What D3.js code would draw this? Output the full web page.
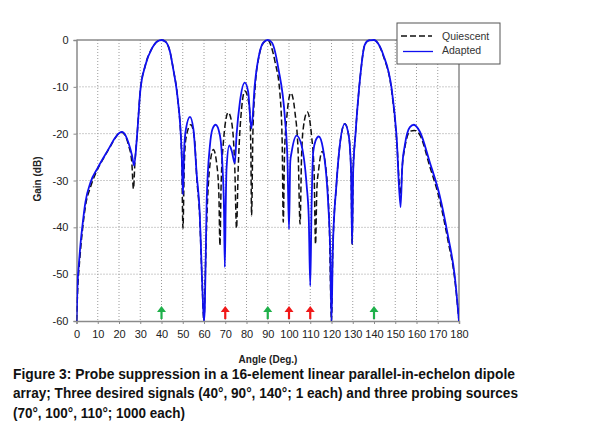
<!DOCTYPE html>
<html>
<head>
<meta charset="utf-8">
<script src="https://cdn.jsdelivr.net/npm/d3@7"></script>
<style>
  body { margin: 0; background: #fff; }
  svg { font-family: "Liberation Sans", Arial, sans-serif; }
</style>
</head>
<body>
<svg id="chart" width="600" height="440"></svg>
<script>
// --- data ---

var xTicks = [0,10,20,30,40,50,60,70,80,90,100,110,120,130,140,150,160,170,180];
var yTicks = [0,-10,-20,-30,-40,-50,-60];

// Adapted pattern (blue)
var adaptedAngle = [0,0.5,1.1,2,2.7,4.2,6.6,10,15.2,18,20.3,21.4,23,24.5,26.1,27.1,28.5,30,32.4,35.5,38,40,42,44,45.6,47.5,49.5,50.1,50.6,51.5,53.4,55,56.6,58,58.9,59.6,60,60.4,61.25,62.8,64,65.5,67.5,68.75,69.4,69.8,70.2,70.6,71.9,73,74.5,75.3,76.9,79.2,80.8,82.3,83.9,86.25,88,90,92,95,98.1,99.3,100,100.6,101.25,103.6,105.9,108.3,109.3,110,110.6,111.4,112.5,114,116,118.4,119.4,120,120.6,122.3,123.9,126.25,128.1,129.2,129.7,130.2,131.25,133.6,135.6,137.5,140,142,144.4,148.3,150.6,152.5,153.3,154.5,156.9,158.75,161.6,166.25,170.9,174.8,178,180];
var adaptedGain  = [-60,-52,-48,-43,-40,-34.6,-30.4,-27.3,-23.2,-21,-19.8,-19.6,-20.3,-22,-24.6,-26.8,-20.4,-11,-5.4,-1.8,-0.3,0,-0.4,-2.5,-6.4,-12,-24.2,-33,-24,-19,-16.4,-19,-28.9,-37,-48.9,-57,-60,-57,-34.6,-22.5,-19,-18.1,-20.4,-27.5,-36,-48.5,-36,-27.5,-22.5,-23.6,-26.3,-20.4,-13.2,-9.1,-11.1,-18.9,-9.6,-2.5,-0.5,0,-0.6,-6.1,-16.8,-26,-40.4,-26,-23.9,-20.4,-22.5,-31,-38,-52.5,-36,-23.9,-21.5,-20.6,-23.2,-34.6,-45,-60,-45,-31,-22.5,-17.9,-20.4,-28,-43.6,-28,-20.4,-7.5,-1.1,-0.1,0,-0.8,-3.2,-10.4,-20.4,-35.7,-27,-22.5,-18.6,-18.1,-19.6,-26.1,-33.2,-41.8,-50.4,-60];

// Quiescent pattern (black dashed)
var quiescentAngle = [0,0.7,1.5,2.7,4.2,6.6,9,12,15.2,18,20.3,21.4,23,24.5,26,26.8,27.5,28.5,30,32.4,35.5,38,40,42,44,45.6,47.5,49.5,50.1,50.7,51.5,53.8,55.5,56.6,58,58.9,60,60.5,61.2,62.5,64.4,66,67,67.5,68,69,71.4,73,74.5,75.3,76.1,77.7,79.2,81.25,82,82.4,83,84,86,88,90,91.5,93.4,95.8,96.8,97.3,97.9,98.9,100.9,102.8,104.3,105.2,105.9,106.7,108.6,110.6,111.8,112.5,113.1,114,115.6,117.7,119,120,120.6,122.3,123.9,126.25,128.1,129.2,129.7,130.2,131.25,133.6,135.6,137.5,140,142,144.4,148.3,150.6,152.5,153.3,154.5,156.9,159,161.6,166.25,170.9,174.8,178,180];
var quiescentGain  = [-60,-52,-47,-41,-35.5,-31.4,-28.5,-25.8,-23.3,-21.1,-19.8,-19.7,-20.5,-22.5,-26,-31.8,-26,-20.4,-11,-5.4,-1.8,-0.3,0,-0.4,-2.5,-6.4,-12,-25,-40.2,-27,-21,-18.1,-21,-29.5,-38,-49,-60,-52,-40,-28,-23.4,-26.5,-33,-43.9,-32,-22.5,-15.5,-17.5,-27.5,-40.2,-27.5,-14.6,-10.9,-13.9,-22,-37.5,-20,-10.5,-3.2,-0.6,0,-1.2,-4.6,-11.8,-22,-38.9,-24,-16.8,-11.3,-15.4,-24,-39.3,-25,-18.9,-15.4,-20.4,-28,-43.6,-32,-27.5,-23.8,-28.9,-40,-60,-45,-31,-22.5,-17.9,-20.4,-28,-43.6,-28,-20.4,-7.5,-1.1,-0.1,0,-0.8,-3.4,-10.8,-21,-33,-27,-23,-19.5,-19.3,-20.3,-27,-34.2,-42.8,-51,-60];

// signal directions marked by arrows
var desiredAngles = [40, 90, 140];
var probeAngles = [70, 100, 110];

var legendNames = ["Quiescent", "Adapted"];

var captionLines = [
  "Figure 3: Probe suppression in a 16-element linear parallel-in-echelon dipole",
  "array; Three desired signals (40\u00b0, 90\u00b0, 140\u00b0; 1 each) and three probing sources",
  "(70\u00b0, 100\u00b0, 110\u00b0; 1000 each)"
];

// --- drawing ---

var svg = d3.select("#chart");
var plotL = 76.5, plotR = 459, plotT = 40, plotB = 321;

var x = d3.scaleLinear().domain([0, 180]).range([plotL, plotR]);
var y = d3.scaleLinear().domain([-60, 0]).range([plotB, plotT]);

// grid
var grid = svg.append("g").attr("stroke", "#9a9a9a").attr("stroke-width", 1).attr("stroke-dasharray", "1,2");
grid.selectAll(".gx").data(xTicks.slice(1, -1)).enter().append("line")
    .attr("x1", function(d) { return x(d); }).attr("x2", function(d) { return x(d); })
    .attr("y1", plotT).attr("y2", plotB);
grid.selectAll(".gy").data(yTicks.slice(1, -1)).enter().append("line")
    .attr("x1", plotL).attr("x2", plotR)
    .attr("y1", function(d) { return y(d); }).attr("y2", function(d) { return y(d); });

// axes
var plain = function(d) { return String(d); };
var xAxis = svg.append("g").attr("transform", "translate(0," + plotB + ")")
    .call(d3.axisBottom(x).tickValues(xTicks).tickFormat(plain).tickSize(3).tickPadding(6));
var yAxis = svg.append("g").attr("transform", "translate(" + plotL + ",0)")
    .call(d3.axisLeft(y).tickValues(yTicks).tickFormat(plain).tickSize(3).tickPadding(5));
[xAxis, yAxis].forEach(function(a) {
  a.select(".domain").attr("stroke", "#8a8a8a").attr("stroke-width", 1.5);
  a.selectAll(".tick line").attr("stroke", "#8a8a8a");
  a.selectAll(".tick text").attr("fill", "#222").style("font-size", "11px")
    .style("font-family", "'Liberation Sans', Arial, sans-serif");
});

// top and right frame
svg.append("line").attr("x1", plotL).attr("x2", plotR).attr("y1", plotT).attr("y2", plotT)
    .attr("stroke", "#8a8a8a").attr("stroke-width", 1.5);
svg.append("line").attr("x1", plotR).attr("x2", plotR).attr("y1", plotT).attr("y2", plotB)
    .attr("stroke", "#8a8a8a").attr("stroke-width", 1.5);

// clip curves to the plot
svg.append("clipPath").attr("id", "plotclip").append("rect")
    .attr("x", plotL).attr("y", plotT - 2).attr("width", plotR - plotL).attr("height", plotB - plotT + 2);

var line = d3.line()
    .x(function(d) { return x(d[0]); })
    .y(function(d) { return y(d[1]); })
    .curve(d3.curveMonotoneX);

var quiescent = d3.zip(quiescentAngle, quiescentGain);
var adapted = d3.zip(adaptedAngle, adaptedGain);

svg.append("path").datum(quiescent)
    .attr("clip-path", "url(#plotclip)")
    .attr("fill", "none").attr("stroke", "#111").attr("stroke-width", 1.5)
    .attr("stroke-dasharray", "6,3")
    .attr("d", line);

svg.append("path").datum(adapted)
    .attr("clip-path", "url(#plotclip)")
    .attr("fill", "none").attr("stroke", "#1010f0").attr("stroke-width", 1.8)
    .attr("d", line);

// arrows
function arrow(g, color) {
  g.append("line").attr("x1", 0).attr("x2", 0).attr("y1", -9).attr("y2", -1)
    .attr("stroke", color).attr("stroke-width", 2.2);
  g.append("path").attr("d", "M-4.5,-8 L0,-14 L4.5,-8 Z").attr("fill", color);
}
svg.selectAll(".desired").data(desiredAngles).enter().append("g")
    .attr("transform", function(d) { return "translate(" + x(d) + "," + (plotB - 1) + ")"; })
    .each(function() { arrow(d3.select(this), "#1fb04a"); });
svg.selectAll(".probe").data(probeAngles).enter().append("g")
    .attr("transform", function(d) { return "translate(" + x(d) + "," + (plotB - 1) + ")"; })
    .each(function() { arrow(d3.select(this), "#f01818"); });

// axis titles
svg.append("text").attr("x", 268).attr("y", 363).attr("text-anchor", "middle")
    .style("font-size", "10px").style("font-weight", "bold").attr("fill", "#222")
    .text("Angle (Deg.)");
svg.append("text").attr("transform", "translate(41,179) rotate(-90)").attr("text-anchor", "middle")
    .style("font-size", "10px").style("font-weight", "bold").attr("fill", "#222")
    .text("Gain (dB)");

// legend
var lg = svg.append("g").attr("transform", "translate(397,23)");
lg.append("rect").attr("width", 103).attr("height", 41)
    .attr("fill", "#fff").attr("stroke", "#555").attr("stroke-width", 1);
lg.append("line").attr("x1", 4).attr("x2", 35).attr("y1", 13).attr("y2", 13)
    .attr("stroke", "#111").attr("stroke-width", 1.3).attr("stroke-dasharray", "6,3");
lg.append("line").attr("x1", 6).attr("x2", 36).attr("y1", 28.5).attr("y2", 28.5)
    .attr("stroke", "#1010f0").attr("stroke-width", 1.3);
lg.selectAll(".lt").data(legendNames).enter().append("text")
    .attr("x", 45).attr("y", function(d, i) { return 17 + i * 13.5; })
    .style("font-size", "10.5px").attr("fill", "#333")
    .text(function(d) { return d; });

// caption
var captionWidths = [502, 505, 172];
svg.selectAll(".caption").data(captionLines).enter().append("text")
    .attr("x", 13).attr("y", function(d, i) { return 379 + i * 19.3; })
    .style("font-size", "15px").style("font-weight", "bold").attr("fill", "#111")
    .attr("textLength", function(d, i) { return captionWidths[i]; })
    .attr("lengthAdjust", "spacingAndGlyphs")
    .text(function(d) { return d; });
</script>
</body>
</html>
